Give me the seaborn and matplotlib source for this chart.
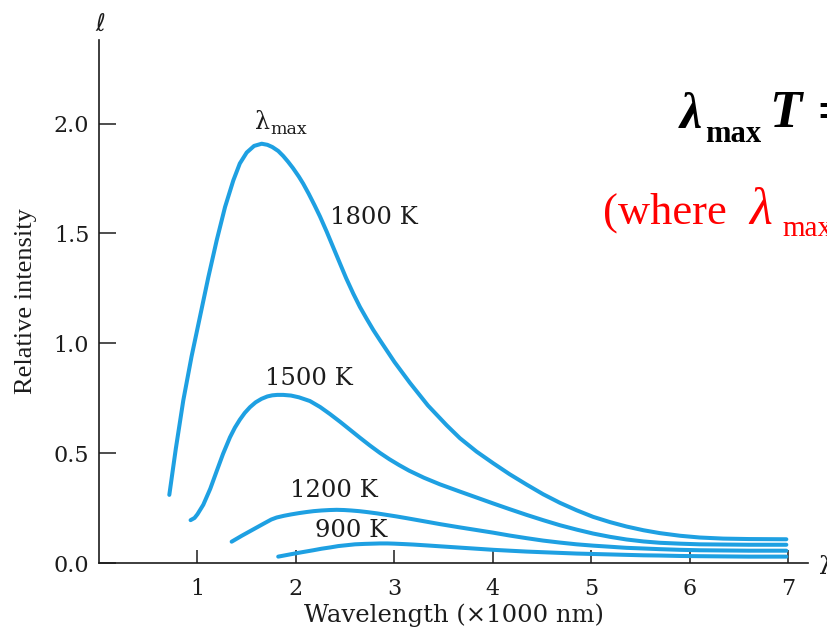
import numpy as np
import pandas as pd
import matplotlib
matplotlib.use("Agg")
import matplotlib.pyplot as plt
import seaborn as sns

# ---------------- data ----------------
temps = ["1800 K", "1500 K", "1200 K", "900 K"]

wl_1800 = [0.714, 0.78, 0.856, 0.94, 1.025, 1.11, 1.195, 1.28, 1.364, 1.43, 1.5, 1.575,
           1.652, 1.71, 1.76, 1.82, 1.871, 1.92, 1.97, 2.03, 2.074, 2.13, 2.19, 2.244,
           2.312, 2.379, 2.45, 2.51, 2.582, 2.65, 2.72, 2.786, 2.853, 3.0, 3.157, 3.34,
           3.53, 3.665, 3.834, 4.003, 4.17, 4.342, 4.51, 4.68, 4.85, 5.018, 5.19, 5.357,
           5.53, 5.695, 5.9, 6.1, 6.34, 6.6, 6.98]
int_1800 = [0.31, 0.52, 0.74, 0.94, 1.12, 1.30, 1.468, 1.62, 1.741, 1.818, 1.868, 1.898,
            1.908, 1.903, 1.893, 1.875, 1.852, 1.826, 1.797, 1.758, 1.726, 1.68, 1.627, 1.577,
            1.508, 1.436, 1.36, 1.296, 1.226, 1.165, 1.11, 1.06, 1.014, 0.915, 0.82, 0.717,
            0.627, 0.568, 0.507, 0.454, 0.404, 0.357, 0.313, 0.274, 0.240, 0.210, 0.186, 0.166,
            0.149, 0.136, 0.124, 0.116, 0.111, 0.109, 0.108]

wl_1500 = [0.93, 0.97, 1.0, 1.059, 1.13, 1.195, 1.26, 1.33, 1.38, 1.43, 1.48, 1.533,
           1.59, 1.65, 1.71, 1.76, 1.81, 1.871, 1.95, 2.03, 2.142, 2.245, 2.345, 2.45,
           2.55, 2.65, 2.75, 2.853, 2.95, 3.05, 3.15, 3.3, 3.462, 3.665, 3.834, 4.003,
           4.17, 4.342, 4.51, 4.68, 4.85, 5.018, 5.19, 5.357, 5.53, 5.695, 5.9, 6.1,
           6.34, 6.6, 6.98]
int_1500 = [0.195, 0.205, 0.222, 0.265, 0.338, 0.418, 0.497, 0.572, 0.616, 0.652, 0.683, 0.709,
            0.731, 0.747, 0.758, 0.763, 0.765, 0.765, 0.762, 0.754, 0.737, 0.71, 0.678, 0.642,
            0.606, 0.570, 0.535, 0.501, 0.472, 0.445, 0.42, 0.388, 0.358, 0.325, 0.298, 0.271,
            0.245, 0.219, 0.195, 0.172, 0.152, 0.134, 0.119, 0.107, 0.098, 0.092, 0.088, 0.085,
            0.084, 0.083, 0.083]

wl_1200 = [1.347, 1.45, 1.567, 1.68, 1.75, 1.804, 1.88, 1.95, 2.03, 2.108, 2.18, 2.26,
           2.34, 2.413, 2.49, 2.56, 2.64, 2.718, 2.82, 2.92, 3.02, 3.124, 3.3, 3.462,
           3.665, 3.834, 4.003, 4.17, 4.342, 4.51, 4.68, 4.85, 5.018, 5.19, 5.357, 5.53,
           5.695, 5.9, 6.1, 6.34, 6.6, 6.98]
int_1200 = [0.097, 0.124, 0.153, 0.181, 0.198, 0.207, 0.215, 0.221, 0.227, 0.232, 0.236, 0.239,
            0.241, 0.242, 0.241, 0.239, 0.236, 0.232, 0.226, 0.219, 0.212, 0.204, 0.19, 0.177,
            0.162, 0.15, 0.138, 0.125, 0.113, 0.102, 0.093, 0.085, 0.079, 0.074, 0.069, 0.066,
            0.063, 0.060, 0.058, 0.057, 0.056, 0.056]

wl_900 = [1.82, 1.95, 2.06, 2.176, 2.26, 2.35, 2.43, 2.515, 2.6, 2.7, 2.78, 2.853,
          2.93, 3.0, 3.1, 3.19, 3.33, 3.462, 3.665, 3.834, 4.003, 4.17, 4.342, 4.51,
          4.68, 4.85, 5.018, 5.19, 5.357, 5.53, 5.695, 5.9, 6.1, 6.34, 6.6, 6.98]
int_900 = [0.029, 0.040, 0.049, 0.058, 0.065, 0.071, 0.077, 0.081, 0.085, 0.087, 0.088, 0.089,
           0.089, 0.088, 0.086, 0.084, 0.080, 0.076, 0.070, 0.065, 0.060, 0.056, 0.052, 0.049,
           0.046, 0.043, 0.041, 0.039, 0.037, 0.035, 0.034, 0.032, 0.031, 0.030, 0.029, 0.029]

x_ticks = [1, 2, 3, 4, 5, 6, 7]
y_ticks = [0.0, 0.5, 1.0, 1.5, 2.0]
y_tick_labels = ["0.0", "0.5", "1.0", "1.5", "2.0"]

# ---------------- build long table ----------------
frames = []
for name, wl, it in zip(temps, [wl_1800, wl_1500, wl_1200, wl_900],
                        [int_1800, int_1500, int_1200, int_900]):
    frames.append(pd.DataFrame({"wavelength": wl, "intensity": it, "T": name}))
df = pd.concat(frames, ignore_index=True)

BLUE = "#1ea0e2"
INK = "#1c1c1c"

sns.set_theme(style="ticks")
plt.rcParams["font.family"] = ["DejaVu Serif", "DejaVu Sans"]
plt.rcParams["figure.facecolor"] = "white"
plt.rcParams["axes.facecolor"] = "white"

W, H = 827, 630
fig = plt.figure(figsize=(W / 100, H / 100), dpi=100)
ax = fig.add_axes([99 / W, 1 - 563 / H, (808 - 99) / W, (563 - 40) / H])

sns.lineplot(data=df, x="wavelength", y="intensity", hue="T", palette=[BLUE] * 4,
             sort=False, estimator=None, legend=False, linewidth=2.9, ax=ax,
             solid_capstyle="round", solid_joinstyle="round")

ax.set_xlim(0, 7.2)
ax.set_ylim(0, 2.38)
ax.set_xticks(x_ticks)
ax.set_xticklabels([str(v) for v in x_ticks])
ax.set_yticks(y_ticks)
ax.set_yticklabels(y_tick_labels)

for s in ["top", "right"]:
    ax.spines[s].set_visible(False)
for s in ["left", "bottom"]:
    ax.spines[s].set_linewidth(1.2)
    ax.spines[s].set_color(INK)

ax.tick_params(axis="x", direction="in", length=9.5, width=1.1, color=INK,
               labelsize=16, labelcolor=INK, pad=11)
ax.tick_params(axis="y", direction="in", length=12, width=1.1, color=INK,
               labelsize=16, labelcolor=INK, pad=7)

ax.set_xlabel("Wavelength (\u00d71000 nm)", fontsize=17.5, color=INK, labelpad=2)
ax.set_ylabel("Relative intensity", fontsize=19, color=INK,
              family="Liberation Serif", labelpad=12)

# curve labels
lab = dict(fontsize=17.5, color=INK, va="baseline", ha="left")
ax.text(2.345, 1.541, "1800 K", **lab)
ax.text(1.685, 0.809, "1500 K", **lab)
ax.text(1.939, 0.300, "1200 K", **lab)
ax.text(2.193, 0.118, "900 K", **lab)
ax.text(1.584, 1.977, "\u03bb", fontsize=17, color=INK, va="baseline", ha="left")
ax.text(1.736, 1.950, "max", fontsize=12.5, color=INK, va="baseline", ha="left")

# axis end symbols
fig.text(100 / W, 1 - 24 / H, "\u2113", fontsize=17, color=INK, ha="center", va="center",
         family=["DejaVu Sans", "DejaVu Serif"])
fig.text(819 / W, 1 - 567 / H, "\u03bb", fontsize=18, color=INK, ha="left", va="center")

# side formula (cut off at the right edge, as in the reference)
def ftxt(px, py, s, **kw):
    fig.text(px / W, 1 - py / H, s, va="baseline", ha="left", **kw)

ftxt(680, 128, "\u03bb", fontsize=36, family="Liberation Serif", weight="bold",
     style="italic", color="black")
ftxt(705, 142, "max", fontsize=22, family="Liberation Serif", weight="bold", color="black")
ftxt(769, 127, "T", fontsize=38, family="Liberation Serif", weight="bold",
     style="italic", color="black")
ftxt(817, 127, "=", fontsize=38, family="Liberation Serif", weight="bold", color="black")

RED = "#ff0000"
ftxt(603, 224, "(where", fontsize=32, family="Liberation Serif", color=RED)
ftxt(749, 224, "\u03bb", fontsize=38, family="Liberation Serif", style="italic", color=RED)
ftxt(782, 236, "max", fontsize=21, family="Liberation Serif", color=RED)

fig.savefig("out.png", dpi=100, facecolor="white")
